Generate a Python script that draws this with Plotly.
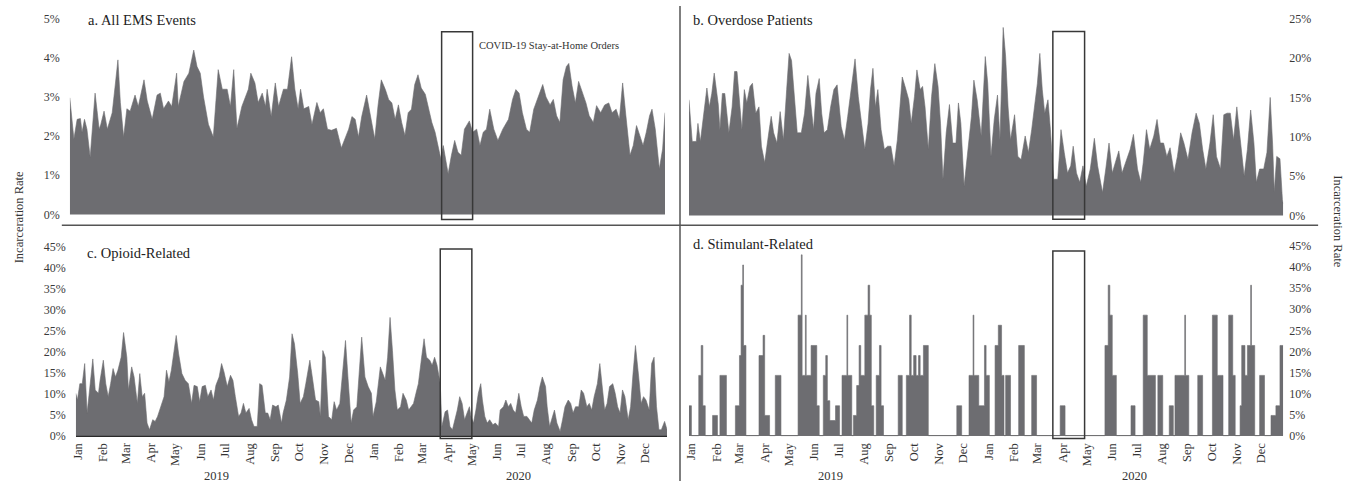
import plotly.graph_objects as go
import pandas as pd

# ---------------- data (day index from 2019-01-01, value in %) ----------------
a_days = [0, 5, 9, 13, 15, 18, 21, 25, 31, 36, 38, 42, 46, 52, 56, 59, 62, 66, 70, 74, 80, 84, 91, 95, 101, 107, 111, 115, 121, 125,
          131, 133, 140, 146, 152, 156, 160, 164, 170, 176, 182, 187, 193, 197, 201, 205, 211, 215, 219, 222, 227, 231, 236, 240, 242,
          247, 252, 256, 262, 267, 272, 276, 280, 283, 287, 293, 297, 303, 307, 311, 316, 321, 327, 333, 338, 342, 346, 350, 354, 358,
          364, 368, 374, 378, 382, 387, 391, 395, 399, 403, 407, 411, 415, 419, 423, 427, 431, 436, 440, 444, 448, 452, 455, 458, 461,
          464, 468, 472, 476, 480, 484, 490, 494, 499, 503, 507, 511, 515, 520, 525, 531, 538, 543, 547, 551, 555, 560, 564, 569, 574,
          580, 584, 589, 593, 597, 601, 605, 609, 612, 616, 620, 624, 629, 633, 637, 642, 646, 651, 656, 661, 665, 670, 674, 678, 682,
          687, 691, 695, 699, 703, 707, 711, 714, 718, 723, 727, 730]
a_vals = [2.98, 1.93, 2.43, 2.45, 2.1, 2.43, 2.18, 1.46, 3.1, 2.18, 2.3, 2.64, 2.18, 2.6, 3.36, 3.95, 2.86, 1.98, 2.7, 2.64, 3.05, 2.76,
          3.44, 2.9, 2.43, 3.05, 3.1, 2.7, 2.9, 2.76, 3.61, 2.76, 3.4, 3.61, 4.2, 3.78, 3.61, 3.0, 2.3, 1.98, 3.7, 3.2, 3.2, 2.76, 3.7,
          2.2, 2.76, 3.0, 3.2, 3.61, 3.36, 2.86, 3.1, 2.76, 3.2, 2.5, 3.36, 2.76, 3.2, 3.2, 4.03, 3.2, 2.7, 3.2, 2.7, 2.76, 2.3, 2.86,
          2.6, 2.7, 2.18, 2.15, 2.2, 1.7, 1.98, 2.18, 2.5, 2.43, 1.98, 2.5, 3.05, 2.6, 1.93, 2.78, 3.44, 3.19, 2.94, 2.85, 2.43, 2.8,
          2.35, 2.02, 2.6, 2.69, 3.32, 3.57, 3.23, 3.07, 2.69, 2.35, 2.1, 1.67, 1.42, 1.76, 1.34, 1.04, 1.51, 1.89, 1.59, 1.51, 2.18,
          2.39, 2.1, 2.18, 1.76, 2.1, 2.18, 2.69, 2.18, 1.89, 2.18, 2.43, 2.94, 3.19, 3.1, 2.6, 2.18, 2.1, 2.69, 3.0, 3.32, 3.0, 2.8,
          2.94, 2.52, 2.35, 3.44, 3.78, 3.86, 3.28, 2.85, 3.4, 3.07, 2.85, 2.52, 2.35, 2.78, 2.6, 2.8, 2.85, 2.6, 2.69, 2.43, 3.36,
          2.52, 1.51, 1.76, 2.27, 2.02, 1.76, 2.1, 2.52, 2.69, 2.18, 1.16, 1.67, 2.6]

b_days = [0, 4, 9, 11, 14, 18, 22, 25, 28, 31, 36, 38, 41, 44, 49, 53, 56, 59, 62, 65, 68, 71, 75, 78, 82, 86, 89, 93, 98, 101, 104,
          108, 112, 116, 120, 123, 126, 129, 133, 138, 142, 146, 150, 153, 156, 160, 163, 166, 170, 174, 178, 182, 187, 191, 195, 199,
          204, 208, 212, 216, 220, 223, 226, 229, 232, 236, 240, 244, 248, 252, 256, 259, 262, 266, 270, 273, 277, 280, 284, 287, 290,
          294, 298, 302, 306, 309, 312, 316, 320, 324, 328, 331, 334, 338, 342, 347, 350, 354, 359, 364, 367, 371, 375, 379, 382, 386,
          389, 392, 395, 400, 404, 408, 413, 417, 421, 425, 428, 431, 434, 437, 441, 444, 448, 453, 457, 461, 465, 469, 472, 476, 480,
          484, 488, 493, 498, 502, 508, 512, 516, 520, 524, 528, 532, 536, 542, 546, 551, 555, 558, 562, 566, 571, 575, 579, 583, 587,
          591, 596, 600, 604, 608, 613, 618, 623, 627, 631, 635, 640, 644, 648, 653, 657, 661, 665, 669, 673, 677, 682, 686, 690, 694,
          697, 701, 706, 710, 714, 717, 719, 722, 726, 729, 730]
b_vals = [14.7, 9.4, 9.4, 11.7, 9.4, 12.6, 16.2, 13.8, 15.5, 18.1, 14.1, 10.9, 15.5, 15.5, 10.5, 13.8, 18.3, 18.3, 14.3, 10.9, 16, 14.3,
          16.4, 16.8, 13, 13.8, 8.8, 6.7, 10.5, 12.6, 10.5, 9.2, 13.2, 9.6, 16, 20.6, 19.7, 16, 10.5, 10.5, 13, 17.8, 13.8, 10.9, 15.5,
          17.4, 13, 10.5, 10.9, 13.8, 16, 16.6, 11.3, 9.6, 12.6, 16, 19.9, 15.1, 11.7, 8.4, 11.7, 16, 18.7, 13.8, 16, 10.9, 8.4, 8.8,
          8.8, 6.3, 9.6, 13.8, 17.6, 16.2, 14.7, 11.7, 15.1, 18.5, 16, 16.4, 13.8, 8.4, 15.1, 19.3, 16.4, 11.7, 4.6, 10.5, 14.1, 9.2,
          9.2, 14.3, 11.7, 3.7, 7.5, 12.6, 17.2, 14.7, 10.1, 20.2, 16.8, 7.5, 12.2, 15.3, 9.6, 23.9, 20.2, 13.8, 9.6, 12.8, 7.5, 7.1,
          10.1, 8, 10.9, 14.7, 16.8, 20.6, 16, 13, 14.7, 10.9, 4.6, 4.6, 10.9, 8, 5.4, 6.3, 8.8, 5.4, 4.2, 6.3, 3.7, 5.9, 9.8, 6.3,
          2.9, 5.9, 9.2, 5.4, 6.7, 8.2, 5.4, 6.7, 8.4, 10.3, 5.9, 4.2, 6.7, 10.9, 8.4, 10.1, 12.2, 9.2, 9.2, 7.5, 8.6, 5.4, 7.5, 10.5,
          9.2, 7.1, 10.5, 13, 11.7, 8.4, 5.9, 9.2, 12.8, 7.5, 5.9, 12.8, 13, 13, 9.6, 13.8, 10.1, 5, 8.4, 13.4, 9.2, 4.2, 5.9, 5.9, 8,
          15, 9, 3, 7.5, 7.2, 2, 1.5]

c_days = [0, 2, 5, 8, 11, 14, 17, 21, 24, 28, 30, 34, 37, 40, 43, 46, 49, 52, 56, 59, 63, 65, 69, 72, 76, 79, 82, 85, 88, 91, 95, 98,
          101, 105, 109, 112, 115, 118, 121, 124, 127, 131, 135, 139, 143, 146, 150, 153, 156, 160, 163, 167, 170, 173, 177, 180, 183,
          187, 191, 194, 197, 201, 204, 207, 210, 214, 217, 220, 224, 227, 230, 234, 237, 240, 243, 247, 250, 254, 256, 260, 264, 267,
          270, 274, 277, 281, 284, 289, 292, 296, 300, 302, 305, 308, 312, 316, 319, 322, 326, 330, 333, 336, 340, 343, 347, 351, 353,
          357, 361, 365, 367, 371, 376, 379, 382, 385, 388, 391, 394, 397, 401, 404, 408, 411, 414, 417, 420, 423, 427, 430, 433, 437,
          440, 443, 446, 450, 452, 456, 459, 462, 465, 468, 471, 474, 477, 480, 483, 486, 488, 491, 494, 497, 500, 502, 505, 508, 511,
          515, 518, 522, 524, 528, 531, 534, 537, 540, 543, 547, 550, 553, 557, 560, 563, 566, 570, 573, 576, 580, 582, 585, 589, 591,
          594, 598, 601, 604, 608, 611, 614, 617, 621, 624, 627, 631, 634, 637, 640, 644, 647, 650, 653, 656, 659, 663, 666, 669, 672,
          675, 678, 682, 685, 688, 691, 695, 698, 701, 704, 708, 711, 714, 717, 720, 723, 727, 730]
c_vals = [10.1, 8.5, 12.4, 12.4, 17.2, 5.4, 10.9, 18.3, 10.9, 10.1, 13.2, 18, 12.4, 9.3, 12.4, 16, 14, 15.6, 18.7, 24.6, 18.7, 10.9,
          16.4, 14, 7.7, 14.8, 9.3, 10.1, 3, 1.4, 3.8, 3.4, 4.6, 6.9, 9.3, 15.6, 12.8, 15.6, 20.3, 23.9, 19.5, 14.8, 13.2, 12.4, 7.7,
          12, 11.7, 8.1, 11.7, 12, 9.3, 10.9, 8.5, 12, 14, 17.2, 15.2, 11.7, 14.4, 13.2, 9.3, 4.6, 5.4, 7.7, 5.4, 6.5, 3.8, 2.2, 2.2,
          12.4, 12, 5.4, 5.4, 3.8, 7.3, 6.9, 7.3, 3, 5.4, 8.5, 14, 24.3, 21.9, 14.8, 7.7, 9.3, 12.4, 18, 14, 8.5, 8.1, 4.6, 20.3, 18.7,
          4.6, 3.8, 8.1, 6.1, 7.7, 17.2, 22.7, 14, 3, 6.1, 6.9, 18, 23.5, 14, 11.7, 10.1, 4.6, 8.1, 16.4, 14.8, 13.2, 18.7, 28.2, 20.3,
          10.9, 6.1, 6.9, 10.1, 8.5, 6.1, 6.9, 7.7, 10.1, 12.4, 18.7, 23.1, 18.7, 18, 16.8, 18.7, 16.8, 12.4, 2.2, 5.7, 6.1, 2.2, 1.4,
          3.8, 6.1, 9.3, 7.7, 3.8, 5.4, 6.9, 4.6, 3, 6.1, 10.1, 12.4, 8.5, 4.6, 3, 3.8, 2.6, 3, 2.2, 6.1, 6.9, 8.5, 6.9, 7.7, 6.1, 5.4,
          10.1, 6.9, 4.6, 4.6, 3.8, 3, 6.1, 8.5, 11.7, 14, 11.7, 6.9, 2.2, 4.6, 6.1, 3, 1, 3.8, 6.9, 8.5, 7.7, 5.4, 6.9, 6.9, 10.9,
          10.1, 6.9, 7.7, 6.1, 9.3, 12.4, 17.2, 10.9, 6.1, 7.7, 11.7, 12.4, 10.1, 6.9, 5.4, 10.9, 9.3, 3.8, 6.9, 14.8, 21.5, 14, 7.7,
          9.3, 8.5, 6.1, 17.2, 18.7, 6.9, 1.4, 1.4, 3.4, 1.4]

# stimulant-related: step levels, value holds from each day until the next listed day
d_days = [0, 3, 12, 15, 17, 20, 29, 35, 38, 46, 57, 62, 64, 66, 67, 70, 86, 91, 93, 99, 106, 113, 134, 138, 139, 143, 144, 150, 157,
          160, 165, 168, 170, 173, 180, 185, 188, 194, 195, 200, 202, 206, 209, 211, 216, 220, 222, 224, 227, 230, 234, 236, 239, 257,
          262, 267, 271, 273, 276, 279, 282, 284, 288, 294, 329, 335, 344, 349, 350, 356, 363, 365, 369, 376, 380, 384, 387, 389, 395,
          405, 412, 421, 427, 456, 462, 511, 515, 517, 520, 525, 543, 548, 558, 563, 573, 576, 582, 590, 595, 597, 609, 610, 614, 625,
          631, 643, 649, 656, 663, 668, 671, 677, 679, 683, 686, 690, 691, 695, 701, 707, 715, 721, 726, 730]
d_vals = [7.1, 0, 14.3, 21.4, 7.1, 0, 4.8, 0, 14.3, 0, 7.1, 19, 35.7, 40.5, 21.4, 0, 19, 23.8, 4.8, 0, 14.3, 0, 28.6, 42.9, 14.3,
          28.6, 14.3, 21.4, 7.1, 0, 14.3, 19, 8.3, 3.6, 7.1, 0, 14.3, 28.6, 14.3, 0, 4.8, 11.9, 21.4, 14.3, 28.6, 35.7, 28.6, 7.1, 0,
          14.3, 21.4, 7.1, 0, 14.3, 0, 14.3, 28.6, 14.3, 19, 14.3, 19, 14.3, 21.4, 0, 7.1, 0, 14.3, 28.6, 14.3, 7.1, 21.4, 14.3, 0,
          21.4, 26.2, 14.3, 0, 14.3, 0, 21.4, 0, 14.3, 0, 7.1, 0, 21.4, 35.7, 28.6, 14.3, 0, 7.1, 0, 28.6, 14.3, 0, 14.3, 0, 7.1, 0,
          14.3, 28.6, 14.3, 0, 14.3, 0, 28.6, 14.3, 0, 28.6, 14.3, 0, 7.1, 21.4, 14.3, 21.4, 35.7, 21.4, 0, 14.3, 0, 4.8, 7.1, 21.4,
          21.4]

month_labels = ["Jan", "Feb", "Mar", "Apr", "May", "Jun", "Jul", "Aug", "Sep", "Oct", "Nov", "Dec"] * 2
year_labels = ["2019", "2020"]
panel_titles = ["a. All EMS Events", "b. Overdose Patients", "c. Opioid-Related", "d. Stimulant-Related"]
# stay-at-home box (start, end) as drawn in each panel
box_dates = {"a": ("2020-04-01", "2020-05-09"), "b": ("2020-03-23", "2020-05-01"),
             "c": ("2020-03-26", "2020-05-04"), "d": ("2020-03-23", "2020-05-01")}

# ---------------- helpers ----------------
W, H = 1358, 491
START = pd.Timestamp("2019-01-01")
FILL = "#6d6d71"
FONT = "Liberation Serif"


def dates(days):
    return [START + pd.Timedelta(days=d) for d in days]


def xdom(p0, p1):
    return [p0 / W, p1 / W]


def ydom(pzero, ptop, vtop, lo, hi):
    u = (pzero - ptop) / vtop
    pbot = pzero - lo * u
    phigh = pzero - hi * u
    return [(H - pbot) / H, (H - phigh) / H]


fig = go.Figure()
series = [(a_days, a_vals, "x", "y", "linear"), (b_days, b_vals, "x2", "y2", "linear"),
          (c_days, c_vals, "x3", "y3", "linear"), (d_days, d_vals, "x4", "y4", "hv")]
for days, vals, xa, ya, shp in series:
    fig.add_trace(go.Scatter(x=dates(days), y=vals, xaxis=xa, yaxis=ya, mode="lines",
                             line=dict(color=FILL, width=0.6, shape=shp), fill="tozeroy",
                             fillcolor=FILL, hoverinfo="skip", showlegend=False))

xr = [START, START + pd.Timedelta(days=730)]
tickdates = [pd.Timestamp(year=2019 + i // 12, month=i % 12 + 1, day=4) for i in range(24)]
tickfont = dict(family=FONT, size=12, color="#3a3a3a")

rng = {"a": [-0.2, 5.1], "b": [-1.0, 25.5], "c": [-1.2, 45.6], "d": [-1.2, 45.6]}
ydoms = {"a": ydom(213, 15, 5, *rng["a"]), "b": ydom(214, 15, 25, *rng["b"]),
         "c": ydom(437, 246, 45, *rng["c"]), "d": ydom(437, 245, 45, *rng["d"])}
xdoms = {"a": xdom(66, 663), "b": xdom(687, 1283), "c": xdom(72, 665), "d": xdom(687, 1283)}


def xaxis_cfg(k, anchor, labels):
    cfg = dict(domain=xdoms[k], range=xr, anchor=anchor, showgrid=False, zeroline=False,
               showline=False, ticks="", fixedrange=True)
    if labels:
        cfg.update(tickmode="array", tickvals=tickdates, ticktext=month_labels, tickangle=-90,
                   ticklabelstandoff=-1,
                   tickfont=dict(family=FONT, size=12.5, color="#333333"))
    else:
        cfg.update(showticklabels=False)
    return cfg


def yaxis_cfg(k, anchor, top, step, side, zl, zlc, zlw, stand):
    return dict(domain=ydoms[k], range=rng[k], anchor=anchor, side=side, showgrid=False,
                zeroline=zl, zerolinecolor=zlc, zerolinewidth=zlw, showline=False, ticks="",
                tickmode="array", tickvals=list(range(0, top + 1, step)),
                ticktext=[f"{v}%" for v in range(0, top + 1, step)], tickfont=tickfont,
                ticklabelstandoff=stand, fixedrange=True)


fig.update_layout(
    width=W, height=H, autosize=False, margin=dict(l=0, r=0, t=0, b=0),
    paper_bgcolor="white", plot_bgcolor="rgba(0,0,0,0)", showlegend=False,
    xaxis=xaxis_cfg("a", "y", False), xaxis2=xaxis_cfg("b", "y2", False),
    xaxis3=xaxis_cfg("c", "y3", True), xaxis4=xaxis_cfg("d", "y4", True),
    yaxis=yaxis_cfg("a", "x", 5, 1, "left", False, "#000", 1, 9),
    yaxis2=yaxis_cfg("b", "x2", 25, 5, "right", False, "#000", 1, 5),
    yaxis3=yaxis_cfg("c", "x3", 45, 5, "left", True, "#2a2a2a", 2, 9),
    yaxis4=yaxis_cfg("d", "x4", 45, 5, "right", True, "#777777", 1, 5),
)

shapes = []
# stay-at-home boxes
box_y = {"a": (-0.13, 4.67), "b": (-0.5, 23.4), "c": (-0.7, 44.5), "d": (-0.7, 43.8)}
for k, (xa, ya) in zip("abcd", [("x", "y"), ("x2", "y2"), ("x3", "y3"), ("x4", "y4")]):
    shapes.append(dict(type="rect", xref=xa, yref=ya, x0=box_dates[k][0], x1=box_dates[k][1],
                       y0=box_y[k][0], y1=box_y[k][1], line=dict(color="#383838", width=1.5),
                       fillcolor="rgba(0,0,0,0)", layer="above"))
# panel dividers
shapes.append(dict(type="line", xref="paper", yref="paper", x0=678 / W, x1=678 / W,
                   y0=(H - 483) / H, y1=(H - 2) / H, line=dict(color="#555555", width=1.5)))
shapes.append(dict(type="line", xref="paper", yref="paper", x0=58 / W, x1=1318 / W,
                   y0=(H - 224) / H, y1=(H - 224) / H, line=dict(color="#555555", width=1.5)))
fig.update_layout(shapes=shapes)

ann = []
title_pos = [(82, 16), (689, 16), (81, 252), (689, 243)]
for t, (px, py) in zip(panel_titles, title_pos):
    ann.append(dict(text=t, xref="paper", yref="paper", x=px / W, y=(H - py) / H, xanchor="left",
                    yanchor="middle", showarrow=False, font=dict(family=FONT, size=14.5, color="#222222")))
ann.append(dict(text="COVID-19 Stay-at-Home Orders", xref="paper", yref="paper", x=474 / W, y=(H - 42) / H,
                xanchor="left", yanchor="middle", showarrow=False,
                font=dict(family=FONT, size=10.5, color="#333333")))
for xa in ["x3", "x4"]:
    for lab, d in zip(year_labels, ["2019-06-24", "2020-07-01"]):
        ann.append(dict(text=lab, xref=xa, yref="paper", x=d, y=(H - 478) / H, xanchor="center",
                        yanchor="middle", showarrow=False, font=dict(family=FONT, size=12.5, color="#333333")))
ann.append(dict(text="Incarceration Rate", xref="paper", yref="paper", x=15 / W, y=(H - 216) / H,
                textangle=-90, showarrow=False, xanchor="center", yanchor="middle",
                font=dict(family=FONT, size=12.5, color="#333333")))
ann.append(dict(text="Incarceration Rate", xref="paper", yref="paper", x=1338 / W, y=(H - 220) / H,
                textangle=90, showarrow=False, xanchor="center", yanchor="middle",
                font=dict(family=FONT, size=12.5, color="#333333")))
fig.update_layout(annotations=ann)

fig.write_html("out.html", config={"displayModeBar": False, "staticPlot": True},
               post_script="document.body.style.margin='0';document.body.style.overflow='hidden';"
                           "document.documentElement.style.overflow='hidden';")
